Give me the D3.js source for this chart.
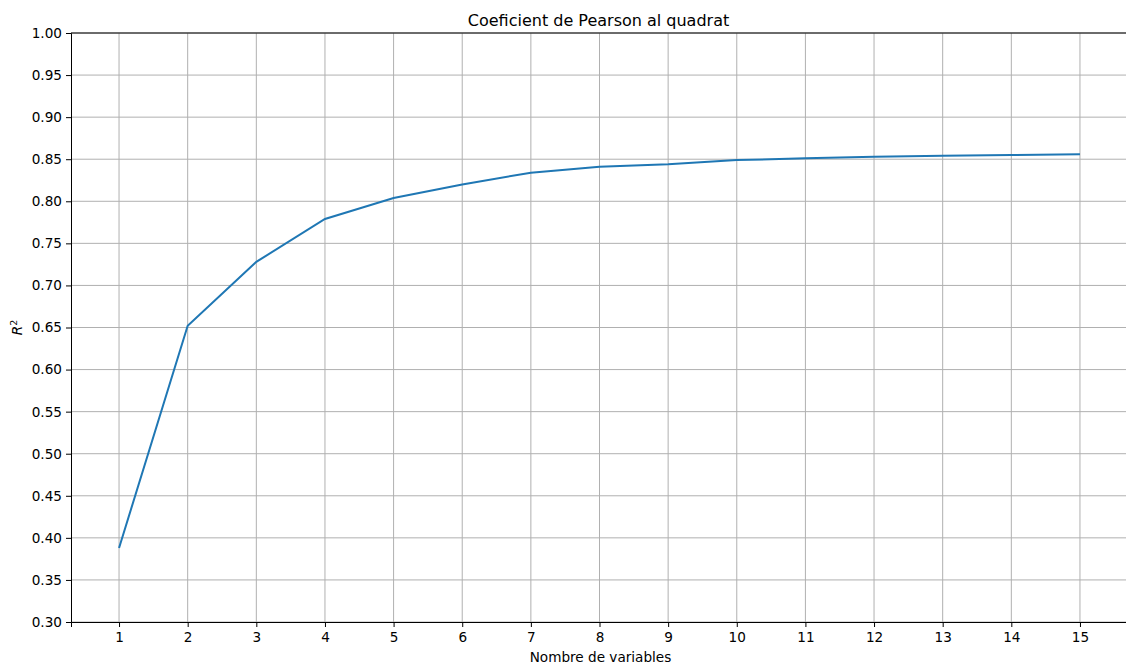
<!DOCTYPE html>
<html>
<head>
<meta charset="utf-8">
<script src="https://cdn.jsdelivr.net/npm/d3@7"></script>
<style>
  body { margin: 0; background: #fff; }
  text { font-family: "DejaVu Sans", sans-serif; fill: #000; }
</style>
</head>
<body>
<div id="chart"></div>
<script>
// data
const nVars   = [1, 2, 3, 4, 5, 6, 7, 8, 9, 10, 11, 12, 13, 14, 15];
const r2      = [0.388, 0.652, 0.728, 0.779, 0.804, 0.820, 0.834, 0.841, 0.844,
                 0.849, 0.851, 0.853, 0.854, 0.855, 0.856];
const yTicks  = d3.range(0.30, 1.0001, 0.05);

const W = 1126, H = 666;
const m = { left: 71, top: 33, right: 1128, bottom: 622 };

const svg = d3.select('#chart')
              .append('svg')
              .attr('width', W)
              .attr('height', H);

const x = d3.scaleLinear().domain([0.3, 15.7]).range([m.left, m.right]);
const y = d3.scaleLinear().domain([0.30, 1.00]).range([m.bottom, m.top]);

// grid
svg.append('g')
   .selectAll('line')
   .data(nVars)
   .join('line')
   .attr('x1', d => x(d)).attr('x2', d => x(d))
   .attr('y1', m.top).attr('y2', m.bottom)
   .attr('stroke', '#b0b0b0').attr('stroke-width', 1);

svg.append('g')
   .selectAll('line')
   .data(yTicks)
   .join('line')
   .attr('x1', m.left).attr('x2', m.right)
   .attr('y1', d => y(d)).attr('y2', d => y(d))
   .attr('stroke', '#b0b0b0').attr('stroke-width', 1);

// axes
const xAxis = d3.axisBottom(x).tickValues(nVars).tickSizeOuter(0).tickSize(5).tickPadding(5);
const yAxis = d3.axisLeft(y).tickValues(yTicks).tickSizeOuter(0).tickSize(5).tickPadding(4)
                .tickFormat(d3.format('.2f'));

const gx = svg.append('g')
              .attr('transform', `translate(0,${m.bottom})`)
              .call(xAxis);
const gy = svg.append('g')
              .attr('transform', `translate(${m.left},0)`)
              .call(yAxis);

[gx, gy].forEach(g => {
  g.selectAll('text').style('font-size', '13.6px').style('font-family', '"DejaVu Sans", sans-serif').attr('fill', '#000');
  g.selectAll('line').attr('stroke', '#000');
  g.select('.domain').attr('stroke', '#000').attr('stroke-width', 1);
});

// top spine
svg.append('line')
   .attr('x1', m.left).attr('x2', m.right)
   .attr('y1', m.top).attr('y2', m.top)
   .attr('stroke', '#000').attr('stroke-width', 1);

// line
const line = d3.line().x((d, i) => x(nVars[i])).y(d => y(d));
svg.append('path')
   .datum(r2)
   .attr('d', line)
   .attr('fill', 'none')
   .attr('stroke', '#1f77b4')
   .attr('stroke-width', 2);

// titles
svg.append('text')
   .attr('x', (m.left + m.right) / 2 - 1)
   .attr('y', 26)
   .attr('text-anchor', 'middle')
   .style('font-size', '16px')
   .text('Coeficient de Pearson al quadrat');

svg.append('text')
   .attr('x', (m.left + m.right) / 2 + 1)
   .attr('y', 662)
   .attr('text-anchor', 'middle')
   .style('font-size', '13.6px')
   .text('Nombre de variables');

const yl = svg.append('text')
   .attr('transform', `translate(22,${(m.top + m.bottom) / 2}) rotate(-90)`)
   .attr('text-anchor', 'middle')
   .style('font-size', '13.6px')
   .style('font-style', 'italic');
yl.append('tspan').text('R');
yl.append('tspan').attr('dy', -5).style('font-size', '9.5px').style('font-style', 'normal').text('2');
</script>
</body>
</html>
